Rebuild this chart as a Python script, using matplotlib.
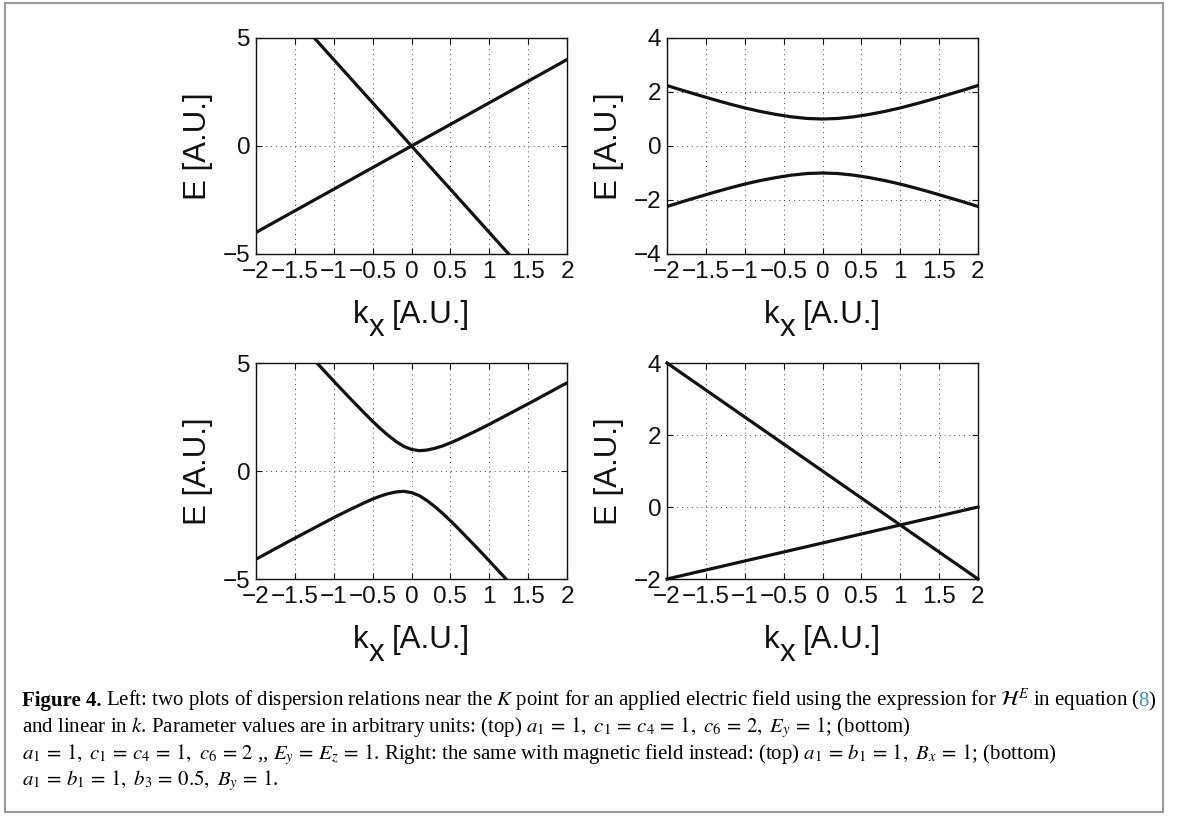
import matplotlib
matplotlib.use('Agg')
import matplotlib.pyplot as plt
from matplotlib.patches import Rectangle

W, H = 1179, 818

# k axis ticks shared by all four panels
x_ticks = [-2, -1.5, -1, -0.5, 0, 0.5, 1, 1.5, 2]
x_tick_labels = ['\u22122', '\u22121.5', '\u22121', '\u22120.5', '0', '0.5', '1', '1.5', '2']

# top left: crossing straight bands
k_tl_a = [-2, 2]
e_tl_a = [-4, 4]
k_tl_b = [-1.25, 1.25]
e_tl_b = [5, -5]

# top right: gapped symmetric bands
k_tr = [-2.0, -1.8, -1.6, -1.4, -1.2, -1.0, -0.8, -0.6, -0.4, -0.2, 0.0,
        0.2, 0.4, 0.6, 0.8, 1.0, 1.2, 1.4, 1.6, 1.8, 2.0]
e_tr_up = [2.24, 2.06, 1.89, 1.72, 1.56, 1.41, 1.28, 1.17, 1.08, 1.02, 1.00,
           1.02, 1.08, 1.17, 1.28, 1.41, 1.56, 1.72, 1.89, 2.06, 2.24]
e_tr_down = [-2.24, -2.06, -1.89, -1.72, -1.56, -1.41, -1.28, -1.17, -1.08, -1.02, -1.00,
             -1.02, -1.08, -1.17, -1.28, -1.41, -1.56, -1.72, -1.89, -2.06, -2.24]

# bottom left: tilted bands with gap
k_bl_up = [-1.3, -1.2, -1.1, -1.0, -0.9, -0.8, -0.7, -0.6, -0.5, -0.4, -0.3, -0.2, -0.1,
           0.0, 0.1, 0.2, 0.3, 0.4, 0.5, 0.6, 0.7, 0.8, 0.9, 1.0, 1.1, 1.2, 1.3, 1.4,
           1.5, 1.6, 1.7, 1.8, 1.9, 2.0]
e_bl_up = [5.33, 4.94, 4.55, 4.16, 3.78, 3.40, 3.03, 2.66, 2.30, 1.96, 1.65, 1.37, 1.14,
           1.00, 0.94, 0.97, 1.05, 1.16, 1.30, 1.46, 1.63, 1.80, 1.98, 2.16, 2.35, 2.54,
           2.73, 2.92, 3.11, 3.30, 3.50, 3.69, 3.89, 4.08]
k_bl_down = [-2.0, -1.9, -1.8, -1.7, -1.6, -1.5, -1.4, -1.3, -1.2, -1.1, -1.0, -0.9, -0.8,
             -0.7, -0.6, -0.5, -0.4, -0.3, -0.2, -0.1, 0.0, 0.1, 0.2, 0.3, 0.4, 0.5, 0.6,
             0.7, 0.8, 0.9, 1.0, 1.1, 1.2, 1.3]
e_bl_down = [-4.08, -3.89, -3.69, -3.50, -3.30, -3.11, -2.92, -2.73, -2.54, -2.35, -2.16,
             -1.98, -1.80, -1.63, -1.46, -1.30, -1.16, -1.05, -0.97, -0.94, -1.00, -1.14,
             -1.37, -1.65, -1.96, -2.30, -2.66, -3.03, -3.40, -3.78, -4.16, -4.55, -4.94, -5.33]

# bottom right: straight bands crossing at k=1
k_br = [-2, 2]
e_br_a = [4, -2]
e_br_b = [-2, 0]

plt.rcParams['font.family'] = ['Liberation Sans', 'DejaVu Sans']
plt.rcParams['mathtext.fontset'] = 'stix'

fig = plt.figure(figsize=(W / 100, H / 100), dpi=100)

label_size = 22.5


def make_ax(left, top, width, height, ylim, yticks, ytick_labels):
    ax = fig.add_axes([left / W, 1 - (top + height) / H, width / W, height / H])
    ax.set_xlim(-2, 2)
    ax.set_ylim(*ylim)
    ax.set_xticks(x_ticks)
    ax.set_xticklabels(x_tick_labels)
    ax.set_yticks(yticks)
    ax.set_yticklabels(ytick_labels)
    ax.tick_params(direction='in', length=4, width=0.8, top=True, right=True,
                   labelsize=17.5, colors='#111111')
    ax.tick_params(axis='x', pad=5)
    ax.tick_params(axis='y', pad=4)
    ax.grid(True, linestyle=(0, (1, 4)), color='#444444', linewidth=0.7)
    for sp in ax.spines.values():
        sp.set_linewidth(1.0)
        sp.set_color('#111111')
    # x label in MATLAB style: full size "x" dropped below the "k"
    for s, dx, dy in [('k', -42, -50), ('x', -30.5, -59), ('[A.U.]', -14, -50)]:
        ax.annotate(s, xy=(0.5, 0), xycoords='axes fraction', xytext=(dx, dy),
                    textcoords='offset points', fontsize=label_size,
                    ha='left', va='baseline', color='#111111')
    ax.set_ylabel('E [A.U.]', fontsize=label_size, labelpad=7, color='#111111')
    return ax


lw = 2.3
col = '#111111'

ax1 = make_ax(256, 38, 311, 216, (-5, 5), [-5, 0, 5], ['\u22125', '0', '5'])
ax1.plot(k_tl_a, e_tl_a, color=col, lw=lw)
ax1.plot(k_tl_b, e_tl_b, color=col, lw=lw)

ax2 = make_ax(667, 38, 311, 216, (-4, 4), [-4, -2, 0, 2, 4],
              ['\u22124', '\u22122', '0', '2', '4'])
ax2.plot(k_tr, e_tr_up, color=col, lw=lw)
ax2.plot(k_tr, e_tr_down, color=col, lw=lw)

ax3 = make_ax(256, 363, 311, 216, (-5, 5), [-5, 0, 5], ['\u22125', '0', '5'])
ax3.plot(k_bl_up, e_bl_up, color=col, lw=lw)
ax3.plot(k_bl_down, e_bl_down, color=col, lw=lw)

ax4 = make_ax(667, 363, 311, 216, (-2, 4), [-2, 0, 2, 4],
              ['\u22122', '0', '2', '4'])
ax4.plot(k_br, e_br_a, color=col, lw=lw, clip_on=False)
ax4.plot(k_br, e_br_b, color=col, lw=lw, clip_on=False)

# outer frame
fig.patches.append(Rectangle((5 / W, 1 - 812 / H), 1158 / W, 809 / H,
                             transform=fig.transFigure, fill=False,
                             edgecolor='#9a9a9a', linewidth=1.5))

# caption
renderer = fig.canvas.get_renderer()
cap_size = 15.0
serif = ['Liberation Serif', 'DejaVu Serif']


def put_run(x_px, y_px, pieces):
    x = x_px / W
    for s, kw, gap in pieces:
        x += gap / W
        t = fig.text(x, 1 - y_px / H, s, fontsize=cap_size, family=serif,
                     va='baseline', ha='left', **kw)
        x = t.get_window_extent(renderer).x1 / W


x0 = 22
y0 = 706
step = 26.5
put_run(x0, y0, [
    ('Figure 4.', {'weight': 'bold'}, 0),
    ('Left: two plots of dispersion relations near the $K$ point for an applied '
     'electric field using the expression for $\\mathcal{H}^E$ in equation (', {}, 4),
    ('8', {'color': '#3a8fd0'}, -1),
    (')', {}, 0),
])
fig.text(x0 / W, 1 - (y0 + step) / H,
         'and linear in $k$. Parameter values are in arbitrary units: (top) '
         '$a_1\\,=\\,1,\\ c_1\\,=\\,c_4\\,=\\,1,\\ c_6\\,=\\,2,\\ E_y\\,=\\,1$; (bottom)',
         fontsize=cap_size, family=serif, va='baseline')
fig.text(x0 / W, 1 - (y0 + 2 * step) / H,
         '$a_1\\,=\\,1,\\ c_1\\,=\\,c_4\\,=\\,1,\\ c_6\\,=\\,2$ ,, $E_y\\,=\\,E_z\\,=\\,1$. '
         'Right: the same with magnetic field instead: (top) '
         '$a_1\\,=\\,b_1\\,=\\,1,\\ B_x\\,=\\,1$; (bottom)',
         fontsize=cap_size, family=serif, va='baseline')
fig.text(x0 / W, 1 - (y0 + 3 * step) / H,
         '$a_1\\,=\\,b_1\\,=\\,1,\\ b_3\\,=\\,0.5,\\ B_y\\,=\\,1$.',
         fontsize=cap_size, family=serif, va='baseline')

fig.savefig('out.png', dpi=100)
